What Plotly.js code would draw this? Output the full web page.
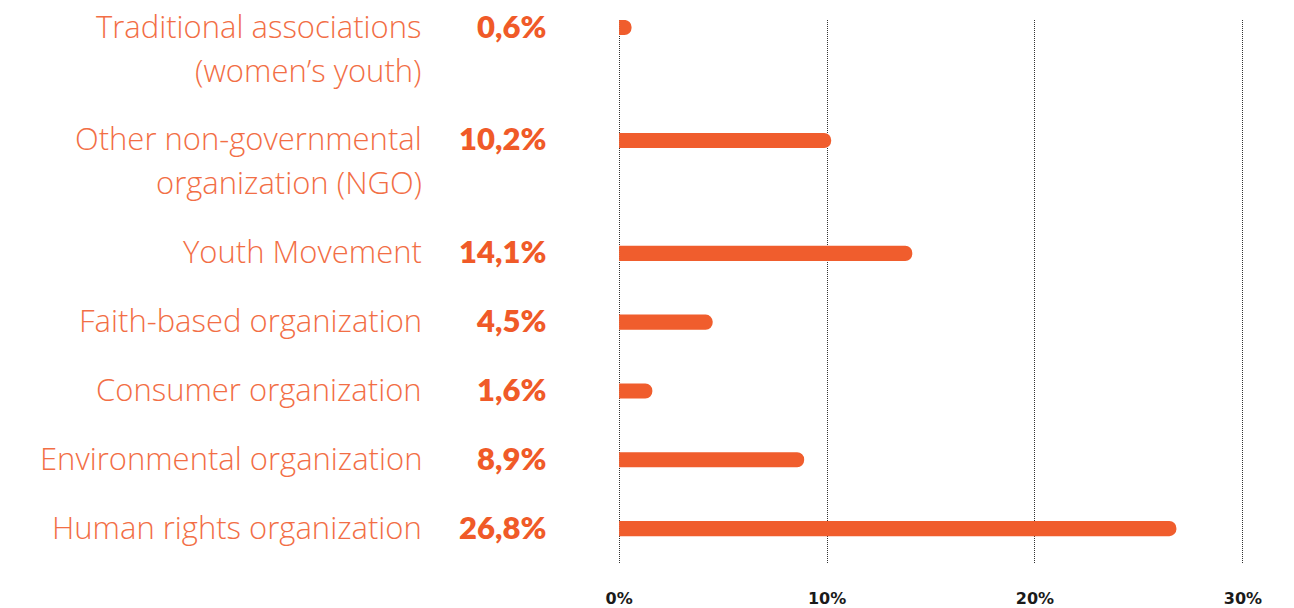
<!DOCTYPE html>
<html>
<head>
<meta charset="utf-8">
<script src="https://cdn.plot.ly/plotly-3.0.1.min.js"></script>
<style>html,body{margin:0;padding:0;background:#fff}#chart{width:1294px;height:608px}</style>
</head>
<body>
<div id="chart"></div>
<script>
// Data (top to bottom as in the reference)
const categories = [
  "Traditional associations\n(women\u2019s youth)",
  "Other non-governmental\norganization (NGO)",
  "Youth Movement",
  "Faith-based organization",
  "Consumer organization",
  "Environmental organization",
  "Human rights organization"
];
const values = [0.6, 10.2, 14.1, 4.5, 1.6, 8.9, 26.8];
const tickValues = [0, 10, 20, 30];
const tickLabels = ["0%", "10%", "20%", "30%"];

// Layout: slot positions derived from the number of label lines
const LINE_PX = 44, SLOT_PX = 68.6;
const lines = categories.map(c => c.split("\n"));
const slots = new Array(categories.length);
let pos = 0;
for (let i = categories.length - 1; i >= 0; i--) {
  if (i < categories.length - 1) pos += 1 + (LINE_PX / SLOT_PX) * (lines[i].length - 1);
  slots[i] = pos;
}
const fmt = v => v.toFixed(1).replace(".", ",") + "%";

const BAR = "#F05D2D", LABEL = "#F26E45", VALUE = "#F05A28";
const PLOT_W = 628.2;
const labelX = (424 - 616.9) / PLOT_W, valueX = (548 - 616.9) / PLOT_W;
const annotations = [];
categories.forEach((c, i) => {
  lines[i].forEach((ln, k) => {
    annotations.push({
      xref: "paper", yref: "y", x: labelX, y: slots[i], yshift: 2 - LINE_PX * k,
      xanchor: "right", yanchor: "middle", showarrow: false, text: ln,
      font: {family: "Open Sans", size: 31, weight: 300, color: LABEL}
    });
  });
  annotations.push({
    xref: "paper", yref: "y", x: valueX, y: slots[i], yshift: 2,
    xanchor: "right", yanchor: "middle", showarrow: false, text: fmt(values[i]),
    font: {family: "Lato", size: 31, weight: 800, color: VALUE}
  });
});

const trace = {
  type: "bar", orientation: "h",
  x: values, y: slots, width: 0.22,
  marker: {color: BAR, cornerradius: "50%"},
  hoverinfo: "skip"
};

const yTop = slots[0] + 7.5 / SLOT_PX;
const layout = {
  width: 1294, height: 608,
  margin: {l: 616.9, r: 48.9, t: 20, b: 45, pad: 0},
  paper_bgcolor: "#fff", plot_bgcolor: "#fff",
  showlegend: false,
  xaxis: {
    range: [-0.1, 30.1], tickvals: tickValues, ticktext: tickLabels,
    showgrid: true, gridcolor: "#333", griddash: "1px,1px", gridwidth: 1,
    zeroline: false, showline: false, ticks: "",
    ticklabelstandoff: 24,
    tickfont: {family: "DejaVu Sans", size: 16, weight: 700, color: "#1a1a1a"},
    fixedrange: true
  },
  yaxis: {
    range: [-0.5, yTop], showgrid: false, zeroline: false, showline: false,
    showticklabels: false, ticks: "", fixedrange: true
  },
  annotations: annotations
};

Plotly.newPlot("chart", [trace], layout, {displayModeBar: false, staticPlot: true});
</script>
</body>
</html>
